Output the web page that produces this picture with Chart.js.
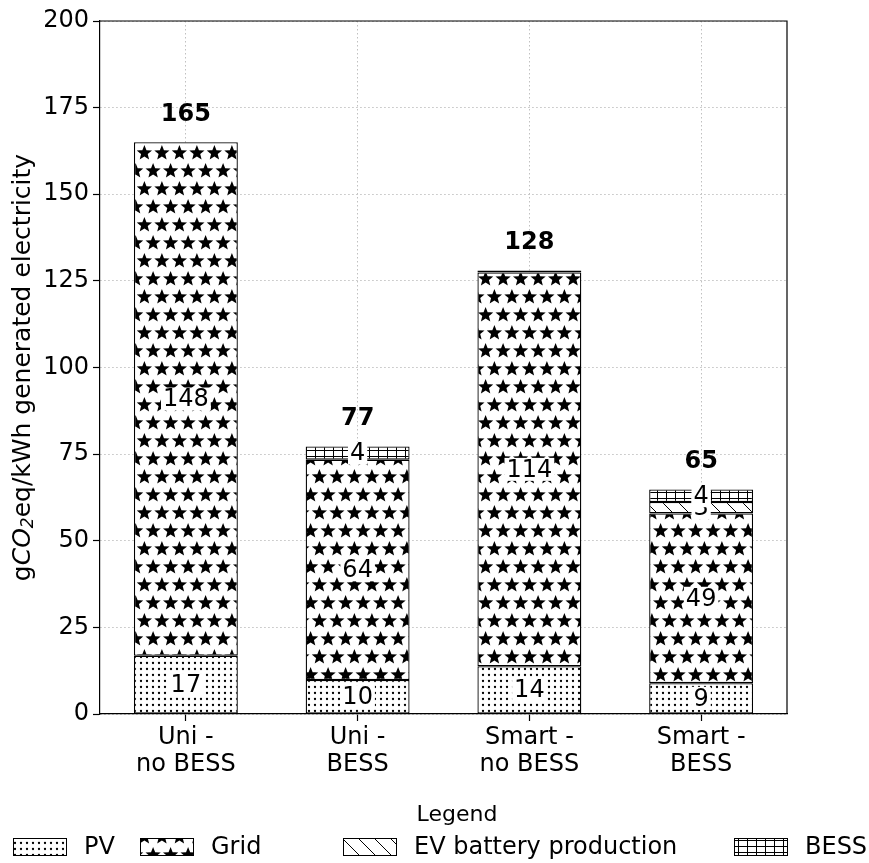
<!DOCTYPE html>
<html>
<head>
<meta charset="utf-8">
<script src="https://cdn.jsdelivr.net/npm/chart.js@4/dist/chart.umd.min.js"></script>
<style>
  html, body { margin: 0; padding: 0; background: #fff; }
  canvas { display: block; }
</style>
</head>
<body>
<canvas id="chart" width="869" height="863"></canvas>
<script>
// Scenario categories (two-line tick labels)
const categories = [['Uni -', 'no BESS'], ['Uni -', 'BESS'], ['Smart -', 'no BESS'], ['Smart -', 'BESS']];

// Emission contributions, gCO2eq per kWh generated electricity
const pvValues        = [16.8,   9.8,  13.8,  8.9];
const gridValues      = [148.2, 63.6, 113.6, 49.0];
const evBatteryValues = [0,      0,     0.6,  3.3];
const bessValues      = [0,      3.8,   0,    3.6];

const seriesNames = ['PV', 'Grid', 'EV battery production', 'BESS'];
const yTicks = [0, 25, 50, 75, 100, 125, 150, 175, 200];

const FONT = "'DejaVu Sans', 'Liberation Sans', sans-serif";
const canvas = document.getElementById('chart');
const ctx = canvas.getContext('2d');

// ---- hatch fills -------------------------------------------------------
function hatch(w, h, draw) {
  const t = document.createElement('canvas');
  t.width = w; t.height = h;
  const g = t.getContext('2d');
  g.fillStyle = '#fff';
  g.fillRect(0, 0, w, h);
  g.fillStyle = '#000';
  g.strokeStyle = '#000';
  draw(g, w, h);
  return ctx.createPattern(t, 'repeat');
}

function star(g, cx, cy, ro, ri) {
  g.beginPath();
  for (let i = 0; i < 10; i++) {
    const r = i % 2 === 0 ? ro : ri;
    const a = -Math.PI / 2 + i * Math.PI / 5;
    const px = cx + r * Math.cos(a), py = cy + r * Math.sin(a);
    if (i === 0) g.moveTo(px, py); else g.lineTo(px, py);
  }
  g.closePath();
  g.fill();
}

const dotFill = hatch(6, 6, (g) => {
  g.beginPath(); g.arc(3, 3, 1.15, 0, Math.PI * 2); g.fill();
});

const starFill = hatch(35, 36, (g, w, h) => {
  const centers = [[4.4, 9], [21.9, 9], [13.1, 27], [30.6, 27]];
  for (const [cx, cy] of centers)
    for (const dx of [-w, 0, w])
      for (const dy of [-h, 0, h])
        star(g, cx + dx, cy + dy, 8, 3.5);
});

const diagFill = hatch(16, 16, (g, w, h) => {
  g.lineWidth = 1;
  g.beginPath();
  for (const dx of [-w, 0, w]) {
    g.moveTo(dx - 1, -1);
    g.lineTo(dx + w + 1, h + 1);
  }
  g.stroke();
});

const crossFill = hatch(9, 6, (g, w, h) => {
  g.lineWidth = 1;
  g.beginPath();
  g.moveTo(0.5, 0); g.lineTo(0.5, h);
  g.moveTo(0, 0.5); g.lineTo(w, 0.5);
  g.stroke();
});

const fills = [dotFill, starFill, diagFill, crossFill];
const seriesValues = [pvValues, gridValues, evBatteryValues, bessValues];

// ---- plugins ------------------------------------------------------------
const frame = {
  id: 'frame',
  afterDatasetsDraw(chart) {
    const { ctx: c, chartArea: a } = chart;
    c.save();
    c.strokeStyle = '#000';
    c.lineWidth = 1.2;
    c.beginPath();
    c.moveTo(a.left, a.top); c.lineTo(a.right, a.top); c.lineTo(a.right, a.bottom);
    c.stroke();
    c.restore();
  }
};

const segmentLabels = {
  id: 'segmentLabels',
  afterDatasetsDraw(chart) {
    const c = chart.ctx;
    c.save();
    c.font = `24px ${FONT}`;
    c.textAlign = 'center';
    c.textBaseline = 'middle';
    chart.data.datasets.forEach((ds, di) => {
      const meta = chart.getDatasetMeta(di);
      meta.data.forEach((bar, i) => {
        const v = ds.data[i];
        if (!(v >= 1)) return;
        const { x, y, base } = bar.getProps(['x', 'y', 'base'], true);
        const cy = (y + base) / 2;
        const txt = String(Math.round(v));
        const w = c.measureText(txt).width;
        c.fillStyle = '#fff';
        c.fillRect(x - w / 2 - 2, cy - 11.5, w + 4, 23);
        c.fillStyle = '#000';
        c.fillText(txt, x, cy + 1);
      });
    });
    // totals above each stack
    c.font = `bold 24px ${FONT}`;
    const yScale = chart.scales.y;
    const meta0 = chart.getDatasetMeta(0);
    categories.forEach((_, i) => {
      const total = seriesValues.reduce((s, arr) => s + arr[i], 0);
      const x = meta0.data[i].x;
      c.fillStyle = '#000';
      c.fillText(String(Math.round(total)), x, yScale.getPixelForValue(total) - 28);
    });
    c.restore();
  }
};

const yTitle = {
  id: 'yTitle',
  afterDraw(chart) {
    const c = chart.ctx;
    const a = chart.chartArea;
    const parts = [
      { t: 'g', f: `25px ${FONT}`, dy: 0 },
      { t: 'CO', f: `italic 25px ${FONT}`, dy: 0 },
      { t: '2', f: `italic 17px ${FONT}`, dy: 6 },
      { t: 'eq/kWh generated electricity', f: `25px ${FONT}`, dy: 0 }
    ];
    c.save();
    let total = 0;
    for (const p of parts) { c.font = p.f; p.w = c.measureText(p.t).width; total += p.w; }
    c.translate(23, (a.top + a.bottom) / 2);
    c.rotate(-Math.PI / 2);
    c.fillStyle = '#000';
    c.textBaseline = 'middle';
    c.textAlign = 'left';
    let x = -total / 2;
    for (const p of parts) { c.font = p.f; c.fillText(p.t, x, p.dy); x += p.w; }
    c.restore();
  }
};

const legendBlock = {
  id: 'legendBlock',
  afterDraw(chart) {
    const c = chart.ctx;
    const boxW = 54, boxH = 18, textGap = 17;
    const itemStarts = [13, 140, 343, 734];
    c.save();
    c.fillStyle = '#000';
    c.textBaseline = 'middle';
    c.textAlign = 'center';
    c.font = `22px ${FONT}`;
    c.fillText('Legend', 457, 815);
    c.font = `24px ${FONT}`;
    const cy = 847;
    seriesNames.forEach((n, i) => {
      const x = itemStarts[i];
      c.fillStyle = fills[i];
      c.fillRect(x, cy - boxH / 2, boxW, boxH);
      c.strokeStyle = '#000';
      c.lineWidth = 1;
      c.strokeRect(x + 0.5, cy - boxH / 2 + 0.5, boxW - 1, boxH - 1);
      c.fillStyle = '#000';
      c.textAlign = 'left';
      c.fillText(n, x + boxW + textGap, cy + 1);
    });
    c.restore();
  }
};

// ---- chart --------------------------------------------------------------
new Chart(ctx, {
  type: 'bar',
  data: {
    labels: categories,
    datasets: seriesNames.map((name, i) => ({
      label: name,
      data: seriesValues[i],
      backgroundColor: fills[i],
      borderColor: '#000',
      borderWidth: 1.3,
      borderSkipped: false,
      categoryPercentage: 1.0,
      barPercentage: 0.605
    }))
  },
  options: {
    responsive: false,
    devicePixelRatio: 1,
    animation: false,
    layout: { padding: { top: 21, right: 82, bottom: 79, left: 0 } },
    plugins: {
      legend: { display: false },
      title: { display: false },
      tooltip: { enabled: false }
    },
    scales: {
      x: {
        stacked: true,
        grid: {
          display: true, offset: false, color: '#c0c0c0', lineWidth: 1,
          drawTicks: true, tickLength: 7, tickColor: '#000', tickWidth: 1.2
        },
        border: { display: true, color: '#000', width: 1.2, dash: [1.5, 2.5] },
        ticks: { color: '#000', font: { family: FONT, size: 24, lineHeight: 1.13 }, padding: 3, maxRotation: 0 },
        afterFit(s) { s.height = 70; }
      },
      y: {
        stacked: true,
        min: 0, max: 200,
        afterBuildTicks(s) { s.ticks = yTicks.map(v => ({ value: v })); },
        grid: {
          display: true, color: '#c0c0c0', lineWidth: 1,
          drawTicks: true, tickLength: 7, tickColor: '#000', tickWidth: 1.2
        },
        border: { display: true, color: '#000', width: 1.2, dash: [1.5, 2.5] },
        ticks: { color: '#000', font: { family: FONT, size: 24 }, padding: 4 },
        afterFit(s) { s.width = 100; }
      }
    }
  },
  plugins: [frame, segmentLabels, yTitle, legendBlock]
});
</script>
</body>
</html>
